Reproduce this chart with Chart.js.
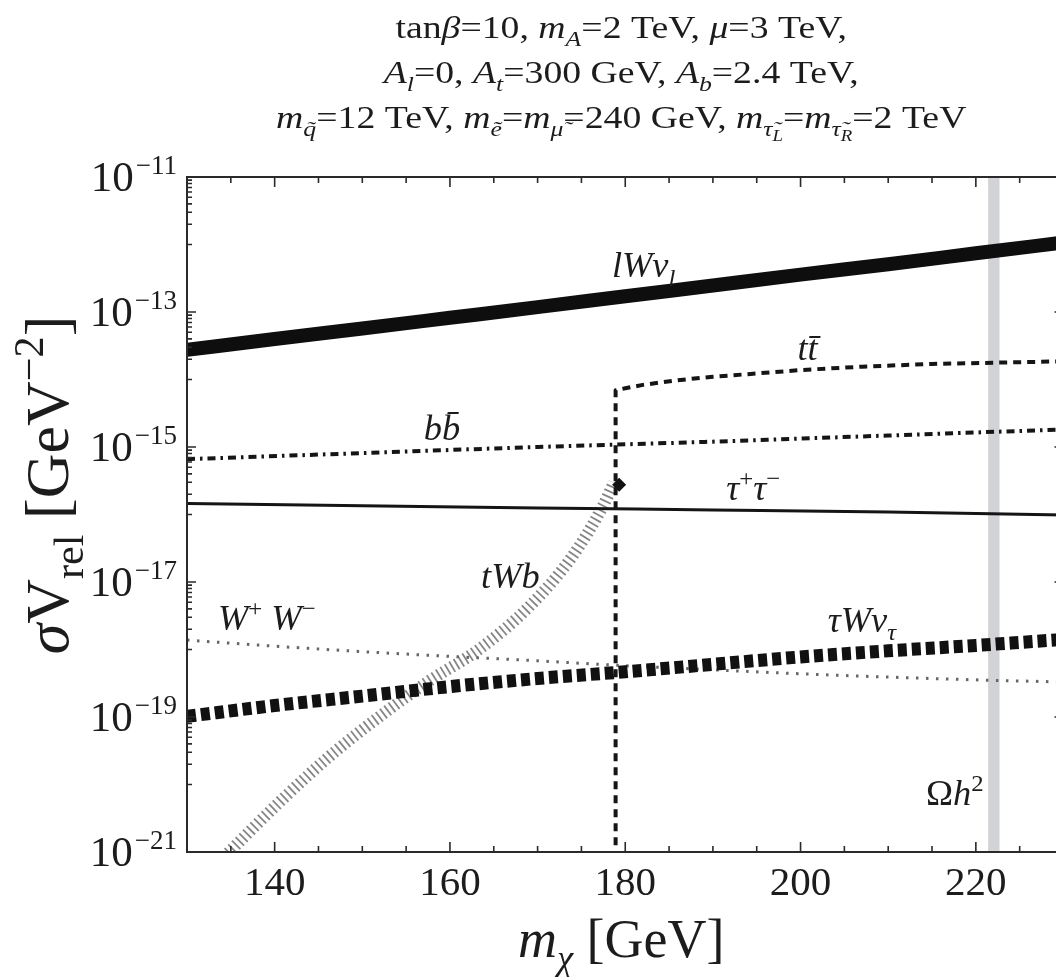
<!DOCTYPE html>
<html><head><meta charset="utf-8">
<script src="https://cdn.jsdelivr.net/npm/chart.js@4.4.1/dist/chart.umd.min.js"></script>
<style>
html,body{margin:0;padding:0;background:#fff;overflow:hidden;width:1056px;height:977px}
#wrap{position:absolute;left:0;top:0;width:1080px;height:977px}
canvas{display:block}
</style></head><body><div id="wrap"><canvas id="c" width="1080" height="977"></canvas></div>
<script>
// ---------------- data ----------------
const xMin = 130, xMax = 230;
const yMin = 1e-21, yMax = 1e-11;
const xTickValues = [130,135,140,145,150,155,160,165,170,175,180,185,190,195,200,205,210,215,220,225,230];
const xTickLabels = ['140','160','180','200','220'];
const yLabelExponents = [-11,-13,-15,-17,-19,-21];
const omegaBand = [221.4, 222.7];

const massLW = [130,140,150,160,170,180,190,200,210,220,230];
const sigmaLW = [2.75e-14,3.98e-14,5.7e-14,8.2e-14,1.18e-13,1.71e-13,2.47e-13,3.58e-13,5.1e-13,7.41e-13,1.07e-12];

const massTT = [178.9,178.9,180,182,186,190,194,200,207,215,230];
const sigmaTT = [3e-22,6.92e-15,7.41e-15,8.32e-15,9.77e-15,1.10e-14,1.20e-14,1.38e-14,1.55e-14,1.70e-14,1.86e-14];

const massBB = [130,150,170,190,210,230];
const sigmaBB = [6.61e-16,8.13e-16,1.00e-15,1.20e-15,1.48e-15,1.82e-15];

const massTauTau = [130,150,170,190,210,230];
const sigmaTauTau = [1.45e-16,1.35e-16,1.25e-16,1.17e-16,1.09e-16,0.98e-16];

const massWW = [130,140,150,160,170,180,190,200,210,220,230];
const sigmaWW = [1.38e-18,1.12e-18,9.3e-19,7.9e-19,6.8e-19,5.75e-19,5.0e-19,4.37e-19,3.9e-19,3.55e-19,3.3e-19];

const massTauWNu = [130,140,150,160,170,180,190,200,210,220,230];
const sigmaTauWNu = [1.02e-19,1.48e-19,2.04e-19,2.82e-19,3.72e-19,4.68e-19,6.03e-19,7.76e-19,9.55e-19,1.15e-18,1.41e-18];

const massTWB = [133,134.8,140.5,146.2,151.9,157.6,163.3,169.0,173.9,177.4,178.7];
const sigmaTWB = [5.9e-22,1e-21,5.4e-21,2.57e-20,1.0e-19,3.4e-19,1.0e-18,4.27e-18,2.34e-17,1.29e-16,2.95e-16];

const massTWBEnd = [179.3];
const sigmaTWBEnd = [2.75e-16];

// curve labels, anchored in data coordinates (mass, sigma)
const curveLabels = [
  {mass:182.1, sigma:3.25e-13, parts:[['lW','i'],['ν','i'],['l','i_']]},
  {mass:200.8, sigma:1.95e-14, parts:[['t','i'],['t\u0304','i']]},
  {mass:159.1, sigma:1.26e-15, parts:[['b','i'],['b\u0304','i']]},
  {mass:194.6, sigma:1.62e-16, parts:[['τ','i'],['+','^'],['τ','i'],['−','^']]},
  {mass:166.9, sigma:8.1e-18, parts:[['tWb','i']]},
  {mass:139.1, sigma:1.95e-18, parts:[['W','i'],['+','^'],[' W','i'],['−','^']]},
  {mass:207.0, sigma:1.82e-18, parts:[['τWν','i'],['τ','i_']]},
  {mass:217.6, sigma:5.0e-21, parts:[['Ω'],['h','i'],['2','^']]}
];

const titleLines = [
  [['tan'],['β','i'],['=10, '],['m','i'],['A','i_'],['=2 TeV, '],['μ','i'],['=3 TeV,']],
  [['A','i'],['l','i_'],['=0, '],['A','i'],['t','i_'],['=300 GeV, '],['A','i'],['b','i_'],['=2.4 TeV,']],
  [['m','i'],['q\u0303','i_'],['=12 TeV, '],['m','i'],['\u1EBD','i_'],['='],['m','i'],['μ\u0303','i_'],['=240 GeV, '],['m','i'],['τ\u0303','i_'],['L','i='],['='],['m','i'],['τ\u0303','i_'],['R','i='],['=2 TeV']]
];
const xTitle = [['m','i'],['χ','i_'],[' [GeV]']];
const yTitle = [['σ','i'],['V'],['rel','_'],[' [GeV'],['−2','^'],[']']];

// ---------------- helpers ----------------
const FAM = '"Liberation Serif", "Times New Roman", serif';
const INK = '#1c1c1c';
function pts(xs, ys){ return xs.map((x,i)=>({x:x, y:ys[i]})); }
function measureRich(ctx, parts, size){
  return parts.map(([t,f=''])=>{
    let s=size, dy=0;
    if(f.includes('_')){ s=size*0.68; dy=size*0.24; }
    if(f.includes('^')){ s=size*0.68; dy=-size*0.40; }
    if(f.includes('=')){ s=size*0.5; dy=size*0.40; }
    const font=(f.includes('i')?'italic ':'')+s.toFixed(1)+'px '+FAM;
    ctx.font=font;
    return {t, font, dy, w:ctx.measureText(t).width};
  });
}
function drawRich(ctx, parts, size, x, y, align, sx, rot){
  ctx.save();
  ctx.translate(x,y);
  if(rot) ctx.rotate(rot);
  ctx.scale(sx||1,1);
  const items=measureRich(ctx,parts,size);
  const total=items.reduce((a,b)=>a+b.w,0);
  let cx = align==='center' ? -total/2 : (align==='right' ? -total : 0);
  ctx.textAlign='left'; ctx.textBaseline='alphabetic'; ctx.fillStyle=INK;
  for(const it of items){ ctx.font=it.font; ctx.fillText(it.t,cx,it.dy); cx+=it.w; }
  ctx.restore();
}

const decor = {
  id:'decor',
  beforeDatasetsDraw(chart){
    const {ctx, chartArea:a, scales:{x}} = chart;
    const x0=x.getPixelForValue(omegaBand[0]), x1=x.getPixelForValue(omegaBand[1]);
    ctx.save(); ctx.fillStyle='#d2d3d6'; ctx.fillRect(x0,a.top,x1-x0,a.bottom-a.top); ctx.restore();
  },
  afterDatasetsDraw(chart){
    const {ctx, chartArea:a, scales:{x,y}} = chart;
    ctx.save();
    ctx.strokeStyle='#2a2a2a'; ctx.lineWidth=2;
    ctx.strokeRect(a.left,a.top,a.right-a.left,a.bottom-a.top);
    ctx.lineWidth=1.6;
    ctx.beginPath();
    xTickValues.forEach(v=>{
      const px=x.getPixelForValue(v);
      const len = (v%20===0)?10:6;
      ctx.moveTo(px,a.bottom); ctx.lineTo(px,a.bottom-len);
      ctx.moveTo(px,a.top); ctx.lineTo(px,a.top+len);
    });
    for(let e=-21;e<=-11;e++){
      if(yLabelExponents.includes(e)){
        const py=y.getPixelForValue(Math.pow(10,e));
        ctx.moveTo(a.left,py); ctx.lineTo(a.left+9,py);
        ctx.moveTo(a.right,py); ctx.lineTo(a.right-9,py);
      } else {
        for(let k=1;k<=9;k++){
          const py=y.getPixelForValue(k*Math.pow(10,e));
          ctx.moveTo(a.left,py); ctx.lineTo(a.left+5,py);
          ctx.moveTo(a.right,py); ctx.lineTo(a.right-5,py);
        }
      }
    }
    ctx.stroke();
    ctx.fillStyle=INK; ctx.textBaseline='alphabetic'; ctx.textAlign='left';
    yLabelExponents.forEach(e=>{
      const py=y.getPixelForValue(Math.pow(10,e));
      const sup='−'+String(-e);
      ctx.font='27px '+FAM; const ws=ctx.measureText(sup).width;
      ctx.font='43px '+FAM; const wb=ctx.measureText('10').width;
      const xr=a.left-10;
      ctx.fillText('10', xr-ws-2-wb, py+14);
      ctx.font='27px '+FAM; ctx.fillText(sup, xr-ws, py-3);
    });
    curveLabels.forEach(l=>{
      drawRich(ctx, l.parts, 35, x.getPixelForValue(l.mass), y.getPixelForValue(l.sigma), 'center', 1.04);
    });
    const cx=(a.left+a.right)/2-4;
    titleLines.forEach((ln,i)=> drawRich(ctx, ln, 32, cx, 38+45*i, 'center', 1.18));
    drawRich(ctx, xTitle, 54, cx, 957, 'center', 1);
    drawRich(ctx, yTitle, 62, 68, 485, 'center', 1, -Math.PI/2);
    ctx.restore();
  }
};

const line = (label, xs, ys, o) => Object.assign({label, data:pts(xs,ys), pointRadius:0, fill:false, clip:0, borderCapStyle:'butt', borderJoinStyle:'round'}, o);

new Chart(document.getElementById('c'), {
  type:'line',
  data:{ datasets:[
    line('lWν_l', massLW, sigmaLW, {borderColor:'#0e0e0e', borderWidth:14, cubicInterpolationMode:'monotone'}),
    line('τ+τ−', massTauTau, sigmaTauTau, {borderColor:'#151515', borderWidth:3, cubicInterpolationMode:'monotone'}),
    line('bb̄', massBB, sigmaBB, {borderColor:'#151515', borderWidth:4, borderDash:[8,5,2.5,5], cubicInterpolationMode:'monotone'}),
    line('tt̄', massTT, sigmaTT, {borderColor:'#151515', borderWidth:4, borderDash:[8,6], tension:0}),
    line('tWb end', massTWBEnd, sigmaTWBEnd, {showLine:false, pointRadius:7, pointStyle:'rectRot', pointBackgroundColor:'#111', pointBorderColor:'#111', pointBorderWidth:0}),
    line('τWν_τ', massTauWNu, sigmaTauWNu, {borderColor:'#111', borderWidth:13, borderDash:[9,5], cubicInterpolationMode:'monotone'}),
    line('W+W−', massWW, sigmaWW, {borderColor:'#666', borderWidth:3, borderDash:[2.5,7.5], cubicInterpolationMode:'monotone'}),
    line('tWb', massTWB, sigmaTWB, {borderColor:'#868686', borderWidth:12, borderDash:[1.8,3.4], cubicInterpolationMode:'monotone'})
  ]},
  options:{
    responsive:false, animation:false, devicePixelRatio:1,
    layout:{padding:{top:177, right:16.5, bottom:0, left:0}},
    plugins:{legend:{display:false}, title:{display:false}, tooltip:{enabled:false}},
    scales:{
      x:{ type:'linear', min:xMin, max:xMax,
          grid:{display:false, drawTicks:false}, border:{display:false},
          afterBuildTicks:(s)=>{ s.ticks = xTickValues.map(v=>({value:v})); },
          afterFit:(s)=>{ s.height = 125; },
          ticks:{ autoSkip:false, maxRotation:0, minRotation:0, padding:8, color:INK,
                  font:{family:'Liberation Serif', size:41},
                  callback:(v)=> xTickLabels.includes(String(v)) ? String(v) : '' } },
      y:{ type:'logarithmic', min:yMin, max:yMax,
          grid:{display:false, drawTicks:false}, border:{display:false},
          afterBuildTicks:(s)=>{ s.ticks = yLabelExponents.map(e=>({value:Math.pow(10,e)})); },
          afterFit:(s)=>{ s.width = 187; },
          ticks:{ display:false } }
    }
  },
  plugins:[decor]
});
</script></body></html>
